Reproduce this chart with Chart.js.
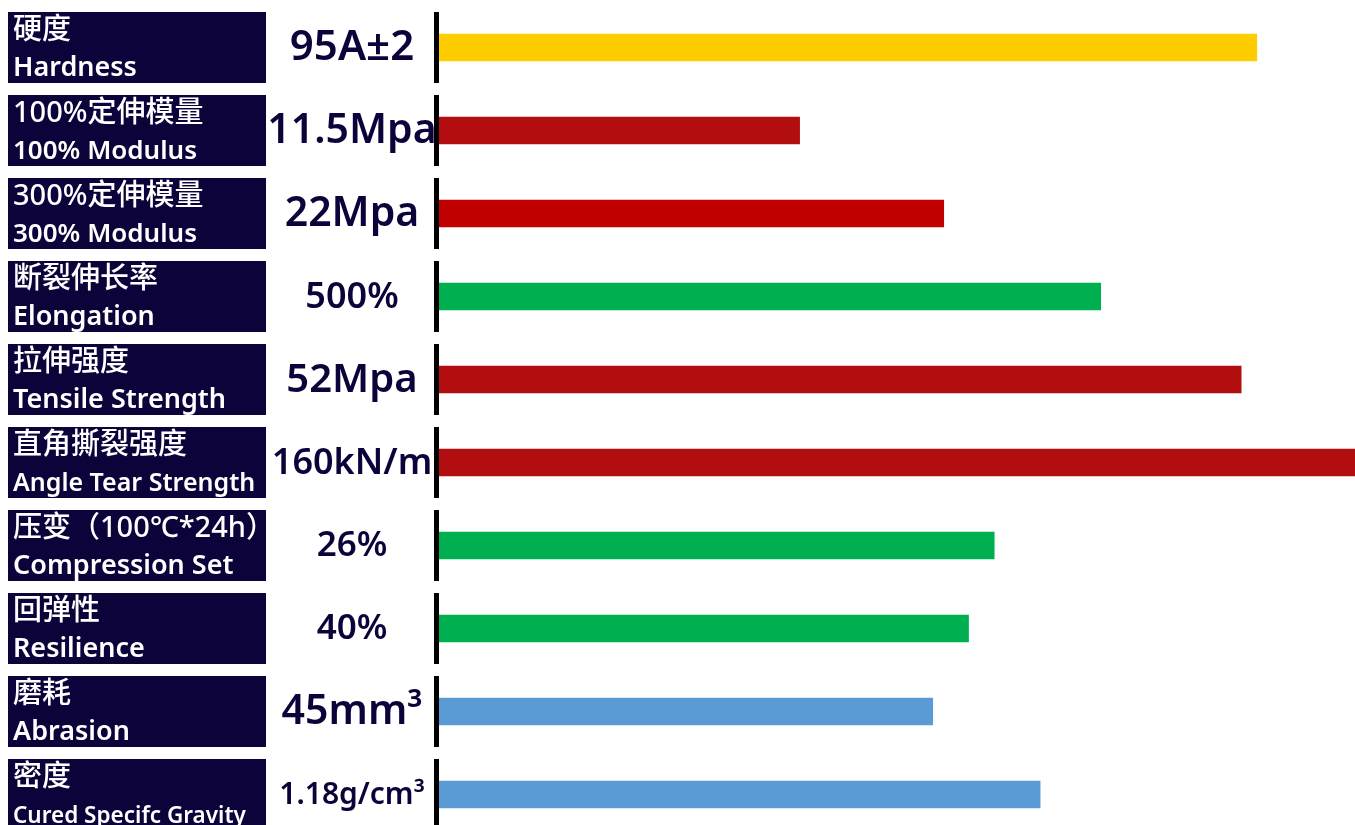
<!DOCTYPE html>
<html>
<head>
<meta charset="utf-8">
<script src="https://cdn.jsdelivr.net/npm/chart.js@4"></script>
<style>
  html, body { margin: 0; padding: 0; background: #fff; overflow: hidden; }
  #wrap { position: absolute; left: 0; top: 0; width: 1355px; height: 840px; }
</style>
</head>
<body>
<div id="wrap"><canvas id="propChart" width="1355" height="840"></canvas></div>
<script>
/* ===== Data ===== */
const namesCn = ['硬度', '100%定伸模量', '300%定伸模量', '断裂伸长率', '拉伸强度',
                 '直角撕裂强度', '压变（100℃*24h）', '回弹性', '磨耗', '密度'];
const namesEn = ['Hardness', '100% Modulus', '300% Modulus', 'Elongation', 'Tensile Strength',
                 'Angle Tear Strength', 'Compression Set', 'Resilience', 'Abrasion', 'Cured Specifc Gravity'];
const valueLabels = ['95A±2', '11.5Mpa', '22Mpa', '500%', '52Mpa',
                     '160kN/m', '26%', '40%', '45mm³', '1.18g/cm³'];
// relative bar length, % of the longest bar
const barLengths = [89.3, 39.5, 55.2, 72.3, 87.6, 100, 60.7, 57.9, 54.0, 65.7];
const barColors = ['#FFCC00', '#B20E10', '#C00000', '#00B050', '#B20E10',
                   '#B20E10', '#00B050', '#00B050', '#5B9BD5', '#5B9BD5'];

/* ===== Styles ===== */
const NAVY = '#0b0339';
const FONT = '"Noto Sans", "Noto Sans CJK SC", sans-serif';
const valueFontSizes = [42, 41, 41, 36, 40, 36, 35, 35, 41, 30];
const enFontSizes = [27, 26, 26, 27, 27, 25, 27, 27, 27, 22.5];

/* ===== Row decorations: label boxes, value text, separators ===== */
const rowPlugin = {
    id: 'rowDecor',
    beforeDatasetsDraw(chart){
        const ctx = chart.ctx;
        const y = chart.scales.y;
        ctx.save();
        namesCn.forEach((cn, i) => {
            const cy = y.getPixelForValue(i);
            ctx.fillStyle = NAVY;
            ctx.fillRect(8, cy - 35.5, 258, 71);

            ctx.fillStyle = '#ffffff';
            ctx.textAlign = 'left';
            ctx.textBaseline = 'middle';
            ctx.font = '500 29px ' + FONT;
            ctx.fillText(cn, 13, cy - 16.5);
            ctx.textBaseline = 'alphabetic';
            ctx.font = '600 ' + enFontSizes[i] + 'px ' + FONT;
            ctx.fillText(namesEn[i], 13, cy + 28);

            ctx.fillStyle = NAVY;
            ctx.textAlign = 'center';
            ctx.textBaseline = 'middle';
            ctx.font = '600 ' + valueFontSizes[i] + 'px ' + FONT;
            ctx.fillText(valueLabels[i], 352, cy + 1);
        });
        ctx.restore();
    },
    afterDatasetsDraw(chart){
        const ctx = chart.ctx;
        const y = chart.scales.y;
        ctx.save();
        ctx.fillStyle = '#000000';
        namesCn.forEach((cn, i) => {
            const cy = y.getPixelForValue(i);
            ctx.fillRect(434, cy - 35.5, 5, 71);
        });
        ctx.restore();
    }
};

/* ===== Chart ===== */
const propChart = new Chart(document.getElementById('propChart'), {
    type: 'bar',
    data: {
        labels: namesEn,
        datasets: [{
            data: barLengths,
            backgroundColor: barColors,
            barThickness: 27,
            borderWidth: 0
        }]
    },
    options: {
        indexAxis: 'y',
        responsive: false,
        animation: false,
        devicePixelRatio: 1,
        layout: { padding: { left: 437, top: 6, right: 0, bottom: 4 } },
        plugins: { legend: { display: false }, tooltip: { enabled: false } },
        scales: {
            x: { display: false, min: 0, max: 100 },
            y: { display: false, grid: { display: false } }
        }
    },
    plugins: [rowPlugin]
});
</script>
</body>
</html>
